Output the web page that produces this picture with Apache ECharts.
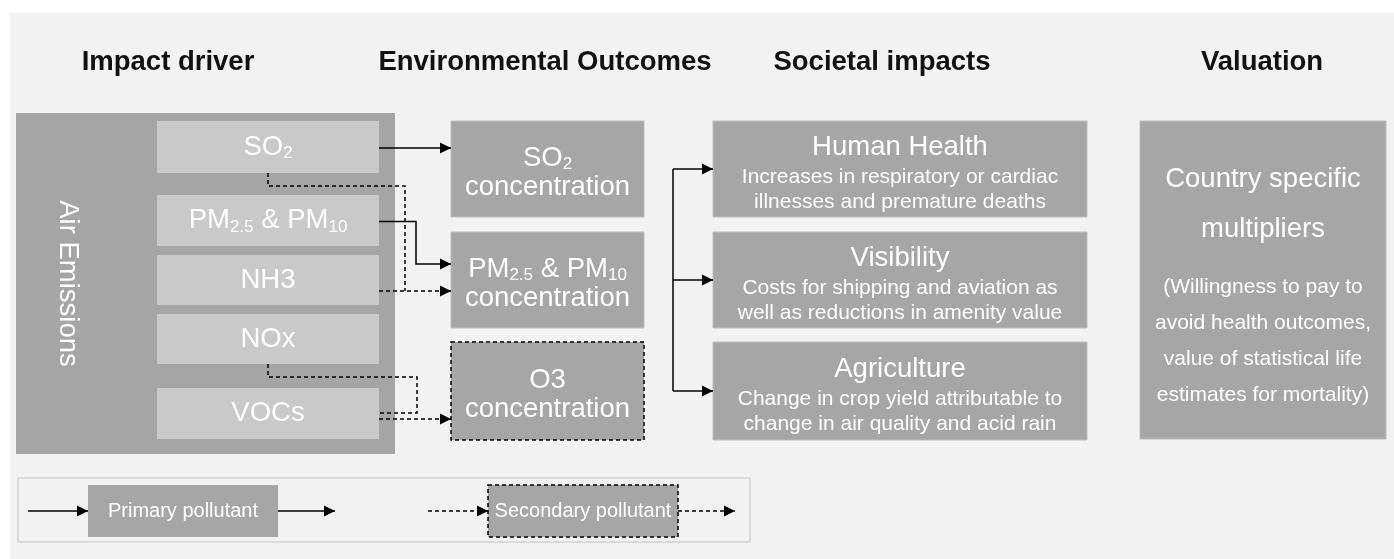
<!DOCTYPE html>
<html>
<head>
<meta charset="utf-8">
<script src="https://cdn.jsdelivr.net/npm/echarts@6/dist/echarts.min.js"></script>
<style>
  html, body { margin: 0; padding: 0; background: #fff; }
  #main { width: 1394px; height: 559px; }
</style>
</head>
<body>
<div id="main"></div>
<script>
// ---- content of the diagram ----
const headers = ['Impact driver', 'Environmental Outcomes', 'Societal impacts', 'Valuation'];
const emissionGroup = 'Air Emissions';
const emissions = ['SO_2', 'PM_2.5 & PM_10', 'NH3', 'NOx', 'VOCs'];
const outcomes = ['SO_2\nconcentration', 'PM_2.5 & PM_10\nconcentration', 'O3\nconcentration'];
const outcomeSecondary = [false, false, true];
const impactTitles = ['Human Health', 'Visibility', 'Agriculture'];
const impactDescs = [
  'Increases in respiratory or cardiac\nillnesses and premature deaths',
  'Costs for shipping and aviation as\nwell as reductions in amenity value',
  'Change in crop yield attributable to\nchange in air quality and acid rain'
];
const valuationTitle = 'Country specific\nmultipliers';
const valuationDesc = '(Willingness to pay to\navoid health outcomes,\nvalue of statistical life\nestimates for mortality)';
// emission index -> outcome index, kind of pollutant
const links = [
  [0, 0, 'primary'],
  [1, 1, 'primary'],
  [0, 1, 'secondary'],
  [2, 1, 'secondary'],
  [3, 2, 'secondary'],
  [4, 2, 'secondary']
];
const legendItems = ['Primary pollutant', 'Secondary pollutant'];

// ---- layout (diagram units = px on the hidden axes) ----
const L = {
  panel: [10, 13, 1394, 559],
  headerX: [168, 545, 882, 1262],
  headerY: 62,
  group: [16, 113, 395, 454],
  emisX: [157, 379],
  emisY: [[121, 173], [195, 246], [255, 305], [314, 364], [388, 439]],
  outX: [451, 644],
  impX: [713, 1087],
  rowY: [[121, 217], [232, 328], [342, 440]],
  valBox: [1140, 121, 1386, 439],
  primaryBus: { 1: { x: 416, dy: -16 } },
  secondary: { 1: { x: 405, dy: 11 }, 2: { x: 417, dy: 28, back: -6 } },
  drop: 13,
  impactBusX: 673,
  legendBox: [18, 478, 750, 542],
  legendX: [[88, 278], [488, 678]],
  legendY: [485, 537],
  legendArrow: [60, 57],
  arrowLen: 11,
  arrowHalf: 5.5
};

const FONT = "'Liberation Sans', Arial, sans-serif";
const WHITE = '#ffffff';
const DARK = '#a6a6a6';
const LIGHT = '#c9c9c9';

function markup(str, b, s) {
  return str.split('\n').map(line => {
    let out = '';
    line.split(/_([0-9.]+)/).forEach((part, k) => {
      if (part !== '') out += '{' + (k % 2 ? s : b) + '|' + part + '}';
    });
    return out;
  }).join('\n');
}
const tagLines = (str, tag) => str.split('\n').map(l => '{' + tag + '|' + l + '}').join('\n');

const bigRich = {
  b: { fontSize: 27.5, lineHeight: 29, fontFamily: FONT, color: WHITE },
  s: { fontSize: 17, lineHeight: 14, verticalAlign: 'bottom', fontFamily: FONT, color: WHITE }
};
const subRich = {
  b: { fontSize: 27.5, lineHeight: 30, fontFamily: FONT, color: WHITE },
  s: { fontSize: 17, lineHeight: 14, verticalAlign: 'bottom', fontFamily: FONT, color: WHITE }
};
const impactRich = {
  t: { fontSize: 27.5, lineHeight: 36, fontFamily: FONT, color: WHITE },
  d: { fontSize: 21, lineHeight: 25, fontFamily: FONT, color: WHITE }
};
const valRich = {
  t: { fontSize: 27.5, lineHeight: 50, fontFamily: FONT, color: WHITE },
  g: { fontSize: 2, lineHeight: 15, fontFamily: FONT, color: WHITE },
  d: { fontSize: 21, lineHeight: 36, fontFamily: FONT, color: WHITE }
};
const legendRich = {
  b: { fontSize: 20, lineHeight: 24, fontFamily: FONT, color: WHITE }
};

// ---- boxes ----
const boxes = [];
boxes.push({ r: L.panel, fill: '#f2f2f2' });
boxes.push({ r: L.group, fill: '#a5a5a5', text: '{b|' + emissionGroup + '}', rich: subRich, textX: L.group[0] + 52, rotate: -Math.PI / 2 });
emissions.forEach((e, i) => boxes.push({ r: [L.emisX[0], L.emisY[i][0], L.emisX[1], L.emisY[i][1]], fill: LIGHT, text: markup(e, 'b', 's'), rich: subRich }));
outcomes.forEach((o, i) => boxes.push({
  r: [L.outX[0], L.rowY[i][0], L.outX[1], L.rowY[i][1]], fill: DARK,
  stroke: outcomeSecondary[i] ? '#000' : '#bdbdbd', dashed: outcomeSecondary[i],
  text: markup(o, 'b', 's'), rich: bigRich, textDy: 4
}));
impactTitles.forEach((t, i) => boxes.push({
  r: [L.impX[0], L.rowY[i][0], L.impX[1], L.rowY[i][1]], fill: DARK, stroke: '#bdbdbd',
  text: tagLines(t, 't') + '\n' + tagLines(impactDescs[i], 'd'), rich: impactRich, textDy: 3
}));
boxes.push({
  r: L.valBox, fill: DARK, stroke: '#bdbdbd',
  text: tagLines(valuationTitle, 't') + '\n{g| }\n' + tagLines(valuationDesc, 'd'), rich: valRich, textDy: 4
});
boxes.push({ r: L.legendBox, fill: 'none', stroke: '#d2d2d2', lineWidth: 1.5 });
legendItems.forEach((t, i) => boxes.push({
  r: [L.legendX[i][0], L.legendY[0], L.legendX[i][1], L.legendY[1]], fill: DARK,
  stroke: i ? '#000' : null, dashed: i === 1, text: '{b|' + t + '}', rich: legendRich
}));

// ---- connectors ----
const mid = r => (r[0] + r[1]) / 2;
const connectors = [];
links.forEach(([from, to, kind]) => {
  const ey = L.emisY[from], oy = L.rowY[to];
  const em = mid(ey), om = mid(oy);
  if (kind === 'primary') {
    const bus = L.primaryBus[to];
    const ys = em + 1;
    if (!bus) {
      connectors.push({ pts: [[L.emisX[1], ys], [L.outX[0], ys]], arrow: true });
    } else {
      const ye = om + bus.dy;
      connectors.push({ pts: [[L.emisX[1], ys], [bus.x, ys], [bus.x, ye], [L.outX[0], ye]], arrow: true });
    }
    return;
  }
  const s = L.secondary[to];
  const ay = om + s.dy;
  if (ay > ey[0] && ay < ey[1]) {
    connectors.push({ pts: [[L.emisX[1], ay], [L.outX[0], ay]], arrow: true, dashed: true });
    return;
  }
  const cx = mid(L.emisX), dy = ey[1] + L.drop;
  const pts = [[cx, ey[1]], [cx, dy], [s.x, dy]];
  if (s.back !== undefined) pts.push([s.x, ay + s.back], [L.emisX[1], ay + s.back]);
  else pts.push([s.x, ay]);
  connectors.push({ pts, dashed: true });
});
// outcomes feed all societal impacts
const impMids = L.rowY.map(mid);
connectors.push({ pts: [[L.impactBusX, impMids[0]], [L.impactBusX, impMids[impMids.length - 1]]] });
impactTitles.forEach((t, i) => connectors.push({ pts: [[L.impactBusX, impMids[i]], [L.impX[0], impMids[i]]], arrow: true }));
// legend arrows
const ly = mid(L.legendY);
legendItems.forEach((t, i) => {
  const x = L.legendX[i];
  connectors.push({ pts: [[x[0] - L.legendArrow[0], ly], [x[0], ly]], arrow: true, dashed: i === 1 });
  connectors.push({ pts: [[x[1], ly], [x[1] + L.legendArrow[1], ly]], arrow: true, dashed: i === 1 });
});

// ---- chart ----
const chart = echarts.init(document.getElementById('main'));

const option = {
  animation: false,
  backgroundColor: '#ffffff',
  grid: { left: 0, right: 0, top: 0, bottom: 0 },
  xAxis: { type: 'value', min: 0, max: 1394, show: false },
  yAxis: { type: 'value', min: 0, max: 559, inverse: true, show: false },
  series: [
    {
      type: 'custom',
      name: 'boxes',
      silent: true,
      data: boxes.map(b => b.r),
      encode: { x: [0, 2], y: [1, 3] },
      renderItem: (params, api) => {
        const b = boxes[params.dataIndex];
        const p0 = api.coord([api.value(0), api.value(1)]);
        const p1 = api.coord([api.value(2), api.value(3)]);
        const children = [{
          type: 'rect',
          shape: { x: p0[0], y: p0[1], width: p1[0] - p0[0], height: p1[1] - p0[1] },
          style: {
            fill: b.fill,
            stroke: b.stroke || null,
            lineWidth: b.lineWidth || (b.dashed ? 1.5 : 1),
            lineDash: b.dashed ? [4, 3] : null
          }
        }];
        if (b.text) {
          const cx = b.textX !== undefined ? api.coord([b.textX, 0])[0] : (p0[0] + p1[0]) / 2;
          children.push({
            type: 'text',
            x: cx,
            y: (p0[1] + p1[1]) / 2 + (b.textDy || 0),
            rotation: b.rotate || 0,
            style: {
              text: b.text,
              rich: b.rich,
              align: 'center',
              verticalAlign: 'middle',
              fill: WHITE,
              fontFamily: FONT
            }
          });
        }
        return { type: 'group', children };
      },
      z: 1
    },
    {
      type: 'custom',
      name: 'links',
      silent: true,
      data: connectors.map(c => c.pts[0]),
      encode: { x: 0, y: 1 },
      renderItem: (params, api) => {
        const c = connectors[params.dataIndex];
        const pts = c.pts.map(p => api.coord(p));
        const children = [{
          type: 'polyline',
          shape: { points: pts },
          style: { stroke: '#000', lineWidth: 1.5, fill: 'none', lineDash: c.dashed ? [4, 3] : null }
        }];
        if (c.arrow) {
          const p = pts[pts.length - 1], q = pts[pts.length - 2];
          const len = Math.hypot(p[0] - q[0], p[1] - q[1]);
          const ux = (p[0] - q[0]) / len, uy = (p[1] - q[1]) / len;
          const bx = p[0] - ux * L.arrowLen, by = p[1] - uy * L.arrowLen;
          const h = L.arrowHalf;
          children.push({
            type: 'polygon',
            shape: { points: [p, [bx - uy * h, by + ux * h], [bx + uy * h, by - ux * h]] },
            style: { fill: '#000' }
          });
        }
        return { type: 'group', children };
      },
      z: 2
    },
    {
      type: 'custom',
      name: 'headers',
      silent: true,
      data: headers.map((h, i) => [L.headerX[i], L.headerY]),
      encode: { x: 0, y: 1 },
      renderItem: (params, api) => {
        const p = api.coord([api.value(0), api.value(1)]);
        return {
          type: 'text',
          x: p[0],
          y: p[1],
          style: {
            text: headers[params.dataIndex],
            align: 'center',
            verticalAlign: 'middle',
            fill: '#111',
            fontSize: 27.5,
            fontWeight: 'bold',
            fontFamily: FONT
          }
        };
      },
      z: 3
    }
  ]
};

chart.setOption(option);
window.addEventListener('resize', () => chart.resize());
</script>
</body>
</html>
